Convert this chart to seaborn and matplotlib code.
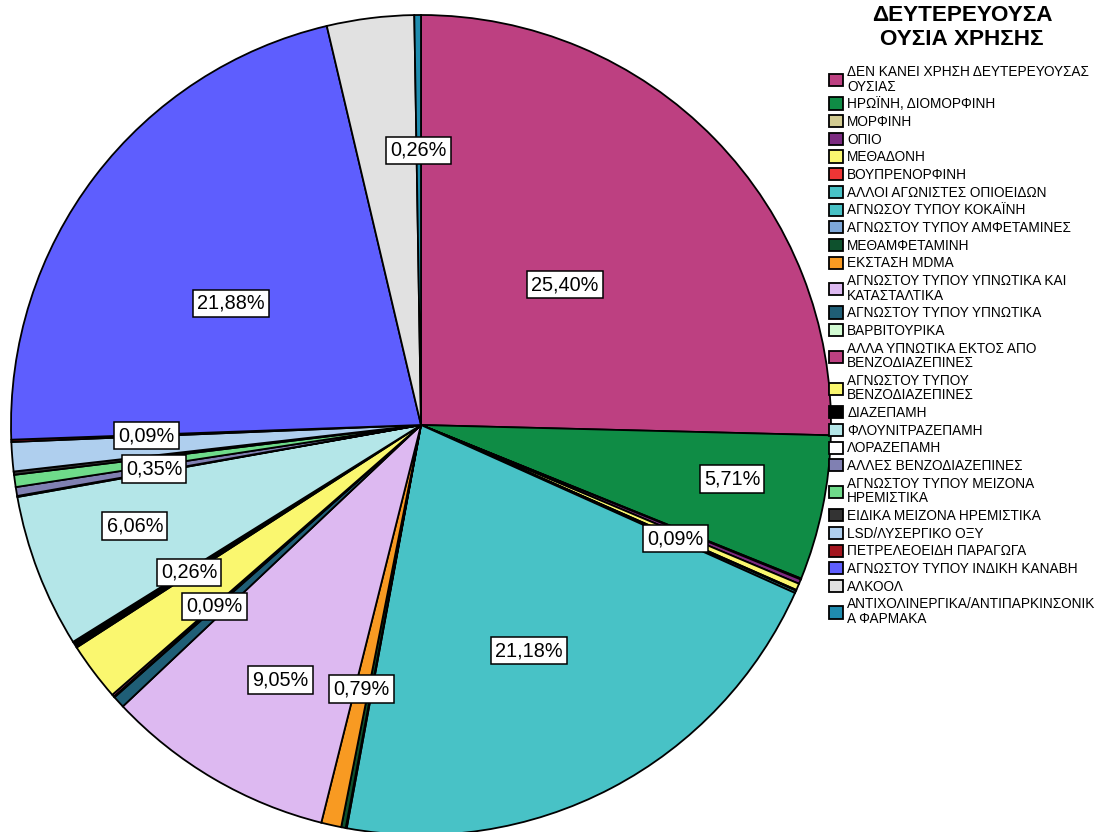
import numpy as np
import matplotlib
matplotlib.use('Agg')
import matplotlib.pyplot as plt
import seaborn as sns

# categories (legend order = slice order, clockwise from 12 o'clock)
categories = [
    'ΔΕΝ ΚΑΝΕΙ ΧΡΗΣΗ ΔΕΥΤΕΡΕΥΟΥΣΑΣ\nΟΥΣΙΑΣ',
    'ΗΡΩΪΝΗ, ΔΙΟΜΟΡΦΙΝΗ',
    'ΜΟΡΦΙΝΗ',
    'ΟΠΙΟ',
    'ΜΕΘΑΔΟΝΗ',
    'ΒΟΥΠΡΕΝΟΡΦΙΝΗ',
    'ΑΛΛΟΙ ΑΓΩΝΙΣΤΕΣ ΟΠΙΟΕΙΔΩΝ',
    'ΑΓΝΩΣΟΥ ΤΥΠΟΥ ΚΟΚΑΪΝΗ',
    'ΑΓΝΩΣΤΟΥ ΤΥΠΟΥ ΑΜΦΕΤΑΜΙΝΕΣ',
    'ΜΕΘΑΜΦΕΤΑΜΙΝΗ',
    'ΕΚΣΤΑΣΗ MDMA',
    'ΑΓΝΩΣΤΟΥ ΤΥΠΟΥ ΥΠΝΩΤΙΚΑ ΚΑΙ\nΚΑΤΑΣΤΑΛΤΙΚΑ',
    'ΑΓΝΩΣΤΟΥ ΤΥΠΟΥ ΥΠΝΩΤΙΚΑ',
    'ΒΑΡΒΙΤΟΥΡΙΚΑ',
    'ΑΛΛΑ ΥΠΝΩΤΙΚΑ ΕΚΤΟΣ ΑΠΟ\nΒΕΝΖΟΔΙΑΖΕΠΙΝΕΣ',
    'ΑΓΝΩΣΤΟΥ ΤΥΠΟΥ\nΒΕΝΖΟΔΙΑΖΕΠΙΝΕΣ',
    'ΔΙΑΖΕΠΑΜΗ',
    'ΦΛΟΥΝΙΤΡΑΖΕΠΑΜΗ',
    'ΛΟΡΑΖΕΠΑΜΗ',
    'ΑΛΛΕΣ ΒΕΝΖΟΔΙΑΖΕΠΙΝΕΣ',
    'ΑΓΝΩΣΤΟΥ ΤΥΠΟΥ ΜΕΙΖΟΝΑ\nΗΡΕΜΙΣΤΙΚΑ',
    'ΕΙΔΙΚΑ ΜΕΙΖΟΝΑ ΗΡΕΜΙΣΤΙΚΑ',
    'LSD/ΛΥΣΕΡΓΙΚΟ ΟΞΥ',
    'ΠΕΤΡΕΛΕΟΕΙΔΗ ΠΑΡΑΓΩΓΑ',
    'ΑΓΝΩΣΤΟΥ ΤΥΠΟΥ ΙΝΔΙΚΗ ΚΑΝΑΒΗ',
    'ΑΛΚΟΟΛ',
    'ΑΝΤΙΧΟΛΙΝΕΡΓΙΚΑ/ΑΝΤΙΠΑΡΚΙΝΣΟΝΙΚ\nΑ ΦΑΡΜΑΚΑ',
]

# percentages (labelled ones exact, the rest)
percents = [25.40, 5.71, 0.04, 0.18, 0.26, 0.04, 0.09, 21.18, 0.04, 0.18,
            0.79, 9.05, 0.48, 0.04, 0.09, 2.30, 0.26, 6.06, 0.04, 0.35,
            0.48, 0.13, 1.15, 0.09, 21.88, 3.43, 0.26]

colors = ['#BD4081', '#0F8C45', '#D3CC92', '#7B2A80', '#FAF76F', '#EE3535',
          '#48C2C6', '#48C2C6', '#7DA7D8', '#0E512D', '#F89A22', '#DDB9F1',
          '#1F5E76', '#D2FBD2', '#BD4081', '#FAF76F', '#000000', '#B4E6E8',
          '#FFFFFF', '#8080B2', '#6FDB8A', '#333333', '#AFCFEE', '#A3151E',
          '#5E5EFE', '#E1E1E1', '#1F8CAF']

# which slices carry a percentage label
labelled = [0, 1, 6, 7, 10, 11, 14, 16, 17, 19, 23, 24, 26]

title = 'ΔΕΥΤΕΡΕΥΟΥΣΑ\nΟΥΣΙΑ ΧΡΗΣΗΣ'

sns.set_theme(style='white')
plt.rcParams['font.family'] = ['Liberation Sans', 'DejaVu Sans']
plt.rcParams['text.color'] = 'black'

W, H = 1101, 832
fig = plt.figure(figsize=(W / 100, H / 100), dpi=100)
fig.patch.set_facecolor('white')

# pie centre (421, 425) px from top-left, radius 410 px
cx, cy, R = 421, 425, 410
ax = fig.add_axes([(cx - R) / W, (H - cy - R) / H, 2 * R / W, 2 * R / H])

palette = sns.color_palette(colors)
wedges, _ = ax.pie(percents, colors=palette, startangle=90, counterclock=False,
                   radius=1.0, wedgeprops=dict(edgecolor='black', linewidth=1.3))
for w in wedges:
    w.set_clip_on(False)
ax.set_xlim(-1, 1)
ax.set_ylim(-1, 1)
ax.set_aspect('equal')
ax.axis('off')

# label placement: radius fraction and clockwise angle shift (deg)
label_pos = {0: (0.49, 0), 1: (0.77, -1.9), 6: (0.68, 0), 7: (0.61, 2.1),
             10: (0.66, 0), 11: (0.71, -1.5), 14: (0.67, 0), 16: (0.67, 0),
             17: (0.74, 1.6), 19: (0.66, 0), 23: (0.67, 0), 24: (0.55, -4.7),
             26: (0.67, 0)}

for i in labelled:
    w = wedges[i]
    r, shift = label_pos[i]
    ang = np.deg2rad((w.theta1 + w.theta2) / 2 - shift)
    txt = f'{percents[i]:.2f}'.replace('.', ',') + '%'
    ax.text(r * np.cos(ang), r * np.sin(ang), txt, ha='center', va='center',
            fontsize=14.3, color='black',
            bbox=dict(boxstyle='square,pad=0.21', facecolor='white',
                      edgecolor='black', linewidth=1.1))

fig.text(962 / W, 1 - 5 / H, title, ha='center', va='top', fontsize=16.2,
         fontweight='bold', linespacing=1.2)

leg = fig.legend(wedges, categories, loc='upper left',
                 bbox_to_anchor=(829 / W, 1 - 65 / H), bbox_transform=fig.transFigure,
                 frameon=False, fontsize=9.8, handlelength=1.0, handleheight=1.0,
                 handletextpad=0.35, labelspacing=0.27, borderpad=0, borderaxespad=0)
for t in leg.get_texts():
    t.set_linespacing(1.05)

fig.savefig('out.png', dpi=100, facecolor='white')
